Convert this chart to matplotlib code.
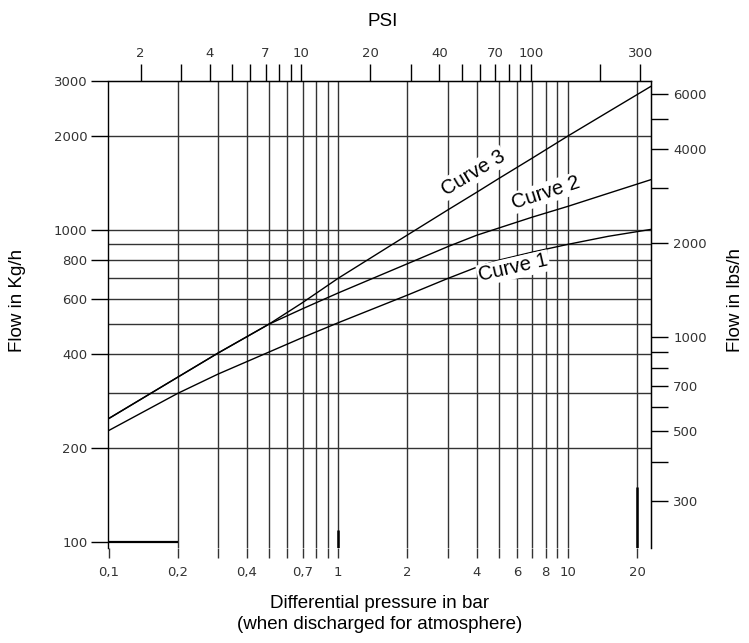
import matplotlib
matplotlib.use("Agg")
import matplotlib.pyplot as plt
from matplotlib.ticker import NullLocator, FixedLocator, FixedFormatter

# data
pressure_bar = [0.1, 0.2, 0.3, 0.5, 0.7, 1, 2, 3, 4, 5, 7, 10, 15, 23]
curve1 = [228, 300, 346, 407, 453, 505, 619, 700, 760, 801, 850, 900, 955, 1005]
curve2 = [249, 338, 404, 500, 560, 629, 780, 885, 962, 1015, 1100, 1191, 1311, 1450]
curve3 = [249, 338, 404, 500, 586, 701, 964, 1160, 1320, 1462, 1700, 2000, 2391, 2885]

curve_names = ["Curve 1", "Curve 2", "Curve 3"]
label_pos = [(5.79, 755, 13), (7.98, 1314, 18), (3.87, 1523, 31)]

# axes ticks and gridlines
bar_grid = [0.2, 0.3, 0.4, 0.5, 0.6, 0.7, 0.8, 0.9, 1, 2, 3, 4, 5, 6, 7, 8, 9, 10, 20]
bar_labels = {0.1: "0,1", 0.2: "0,2", 0.4: "0,4", 0.7: "0,7", 1: "1", 2: "2",
              4: "4", 6: "6", 8: "8", 10: "10", 20: "20"}
kg_grid = [200, 300, 400, 500, 600, 700, 800, 900, 1000, 2000]
kg_labels = [100, 200, 400, 600, 800, 1000, 2000, 3000]
psi_ticks = [2, 3, 4, 5, 6, 7, 8, 9, 10, 20, 30, 40, 50, 60, 70, 80, 90, 100, 200, 300]
psi_labels = [2, 4, 7, 10, 20, 40, 70, 100, 300]
lbs_ticks = [300, 400, 500, 600, 700, 800, 900, 1000, 2000, 3000, 4000, 5000, 6000]
lbs_labels = [300, 500, 700, 1000, 2000, 4000, 6000]

BAR_TO_PSI = 14.5038
KG_TO_LBS = 2.20462

tick_font = {"family": "DejaVu Sans", "size": 9.5, "color": "#333333"}
label_font = {"family": "Liberation Sans", "size": 13.5}

fig = plt.figure(figsize=(7.49, 6.43), dpi=100)
ax = fig.add_axes([108.5 / 749, (643 - 548) / 643, (651 - 108.5) / 749, (548 - 81) / 643])
ax.set_xscale("log")
ax.set_yscale("log")
ax.set_xlim(0.1, 23)
ax.set_ylim(96, 3000)

grid_col = "#333333"
for b in bar_grid:
    ax.axvline(b, color=grid_col, lw=1.0, zorder=1)
for k in kg_grid:
    ax.axhline(k, color=grid_col, lw=1.0, zorder=1)
ax.hlines(100, 0.1, 0.2, color="black", lw=1.6, zorder=1)
# darker stubs at the bottom of two verticals
ax.vlines(1, 96, 110, color="black", lw=1.8, zorder=1)
ax.vlines(20, 96, 150, color="black", lw=1.8, zorder=1)

for vals in (curve1, curve2, curve3):
    ax.plot(pressure_bar, vals, color="black", lw=1.0, zorder=3)

for name, (lx, ly, rot) in zip(curve_names, label_pos):
    ax.text(lx, ly, name, rotation=rot, ha="center", va="center", fontsize=14.5,
            family="Liberation Sans", zorder=4, rotation_mode="anchor",
            bbox=dict(facecolor="white", edgecolor="none", pad=1.0))

ax.spines["bottom"].set_visible(False)
for s in ("left", "right", "top"):
    ax.spines[s].set_linewidth(1.0)

# bottom axis (bar)
ax.xaxis.set_major_locator(FixedLocator([0.1] + bar_grid))
ax.xaxis.set_major_formatter(FixedFormatter([bar_labels.get(b, "") for b in [0.1] + bar_grid]))
ax.xaxis.set_minor_locator(NullLocator())
ax.tick_params(axis="x", direction="out", length=7, width=1.0, color=grid_col, pad=6)

# left axis (kg/h)
ax.yaxis.set_major_locator(FixedLocator(kg_labels))
ax.yaxis.set_major_formatter(FixedFormatter([str(v) for v in kg_labels]))
ax.yaxis.set_minor_locator(NullLocator())
ax.tick_params(axis="y", direction="out", length=12, width=1.0, pad=3)
for lab in ax.get_xticklabels() + ax.get_yticklabels():
    lab.set_fontfamily(tick_font["family"])
    lab.set_fontsize(tick_font["size"])
    lab.set_color(tick_font["color"])

# top axis (psi)
top = ax.secondary_xaxis("top", functions=(lambda b: b * BAR_TO_PSI, lambda p: p / BAR_TO_PSI))
top.xaxis.set_major_locator(FixedLocator(psi_ticks))
top.xaxis.set_major_formatter(FixedFormatter([str(p) if p in psi_labels else "" for p in psi_ticks]))
top.xaxis.set_minor_locator(NullLocator())
top.tick_params(axis="x", direction="out", length=12, width=1.0, pad=3)

# right axis (lbs/h)
right = ax.secondary_yaxis("right", functions=(lambda k: k * KG_TO_LBS, lambda l: l / KG_TO_LBS))
right.yaxis.set_major_locator(FixedLocator(lbs_ticks))
right.yaxis.set_major_formatter(FixedFormatter([str(v) if v in lbs_labels else "" for v in lbs_ticks]))
right.yaxis.set_minor_locator(NullLocator())
right.tick_params(axis="y", direction="out", length=12, width=1.0, pad=4)
for lab in top.get_xticklabels() + right.get_yticklabels():
    lab.set_fontfamily(tick_font["family"])
    lab.set_fontsize(tick_font["size"])
    lab.set_color(tick_font["color"])

fig.text(383 / 749, 1 - 22 / 643, "PSI", ha="center", va="center", **label_font)
fig.text(18 / 749, 1 - 300 / 643, "Flow in Kg/h", rotation=90, ha="center", va="center", **label_font)
fig.text(735 / 749, 1 - 300 / 643, "Flow in lbs/h", rotation=90, ha="center", va="center", **label_font)
fig.text(380 / 749, 1 - 614 / 643, "Differential pressure in bar\n(when discharged for atmosphere)",
         ha="center", va="center", linespacing=1.25, **label_font)

fig.savefig("out.png", dpi=100)
